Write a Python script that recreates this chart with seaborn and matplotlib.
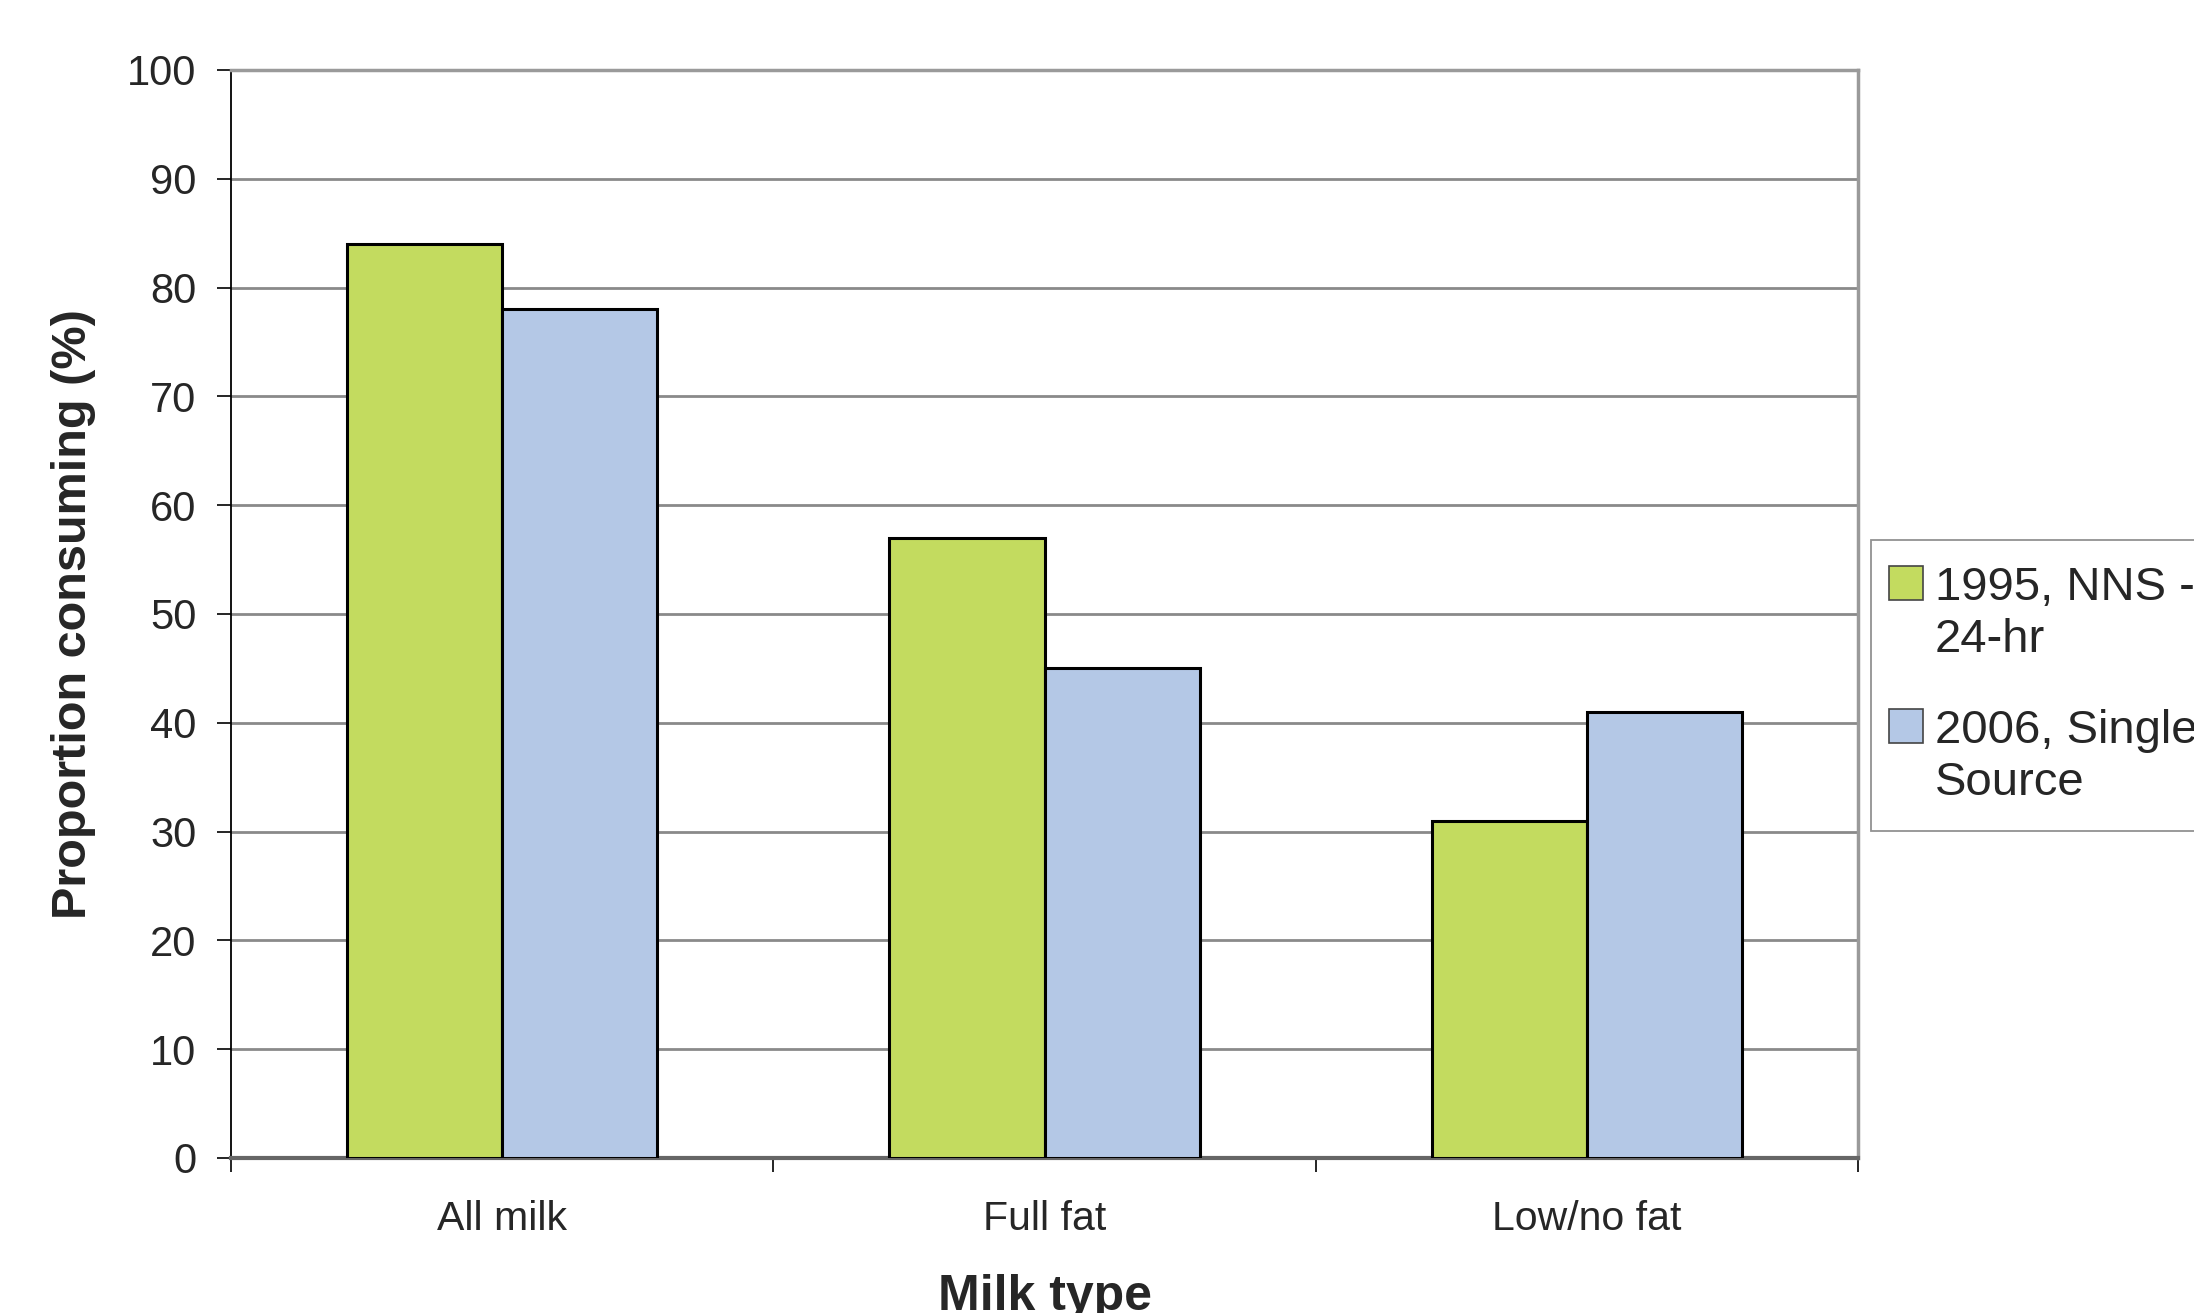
import matplotlib
matplotlib.use("Agg")
import matplotlib.pyplot as plt
import seaborn as sns
import pandas as pd
from matplotlib.patches import Patch, Rectangle
from matplotlib.legend_handler import HandlerBase

categories = ["All milk", "Full fat", "Low/no fat"]
series_names = ["1995, NNS -\n24-hr", "2006, Single\nSource"]
values_1995 = [84, 57, 31]
values_2006 = [78, 45, 41]
colors = ["#c3db5f", "#b4c8e6"]

df = pd.DataFrame({
    "Milk type": categories * 2,
    "Proportion consuming (%)": values_1995 + values_2006,
    "Survey": [series_names[0]] * 3 + [series_names[1]] * 3,
})

sns.set_theme(style="white")
plt.rcParams["font.family"] = ["Liberation Sans", "DejaVu Sans"]

LEG_FS = 34
SQ = 24.5          # legend swatch side, points
SQ_BOTTOM = 22.0   # swatch bottom above the last-line baseline, points
SQ_LEFT = -6.0     # swatch nudged towards the frame, points


class TopSquareHandler(HandlerBase):
    """Swatch aligned with the first line of a two-line label."""

    def create_artists(self, legend, orig_handle, xdescent, ydescent,
                       width, height, fontsize, trans):
        r = Rectangle((-xdescent + SQ_LEFT, SQ_BOTTOM), SQ, SQ,
                      facecolor=orig_handle.get_facecolor(),
                      edgecolor="#444444", linewidth=1.2, transform=trans)
        return [r]


fig = plt.figure(figsize=(21.94, 13.13), dpi=100)
ax = fig.add_axes([0.1053, 0.1181, 0.7416, 0.8286])

sns.barplot(data=df, x="Milk type", y="Proportion consuming (%)", hue="Survey",
            palette=colors, width=0.572, edgecolor="black", linewidth=2.2,
            saturation=1, legend=False, ax=ax, zorder=3)

ax.set_ylim(0, 100)
ax.set_xlim(-0.5, 2.5)
ax.set_yticks(range(0, 101, 10))
ax.yaxis.grid(True, color="#8a8a8a", linewidth=2.0, zorder=0)
ax.set_axisbelow(True)

# category boundaries carry the x tick marks; labels sit at the centres
ax.set_xticks([-0.5, 0.5, 1.5, 2.5])
ax.set_xticklabels([])
ax.set_xticks([0, 1, 2], minor=True)
ax.set_xticklabels(categories, minor=True, fontsize=29.5)
ax.tick_params(axis="x", which="major", direction="out", length=10, width=1.2,
               color="black", bottom=True)
ax.tick_params(axis="x", which="minor", length=0, pad=30)
ax.tick_params(axis="y", direction="out", length=10, width=1.2, color="black",
               left=True, labelsize=30, pad=15)

for side in ["top", "right"]:
    ax.spines[side].set_visible(True)
    ax.spines[side].set_color("#9a9a9a")
    ax.spines[side].set_linewidth(2.5)
ax.spines["left"].set_color("black")
ax.spines["left"].set_linewidth(1.3)
ax.spines["bottom"].set_color("#666666")
ax.spines["bottom"].set_linewidth(3)

ax.set_xlabel("Milk type", fontsize=36, fontweight="bold", labelpad=26)
ax.set_ylabel("Proportion consuming (%)", fontsize=35, fontweight="bold", labelpad=22)

handles = [Patch(facecolor=c) for c in colors]
leg = fig.legend(handles, series_names, loc="upper left",
                 bbox_to_anchor=(0.853, 0.589), fontsize=LEG_FS, frameon=True,
                 fancybox=False, edgecolor="#777777", borderaxespad=0,
                 handlelength=0.72, handleheight=2.0, handletextpad=0.07,
                 labelspacing=0.99, borderpad=0.55,
                 handler_map={Patch: TopSquareHandler()})
leg.get_frame().set_linewidth(1.3)
for t in leg.get_texts():
    t.set_linespacing(1.24)

fig.savefig("out.png", dpi=100)
